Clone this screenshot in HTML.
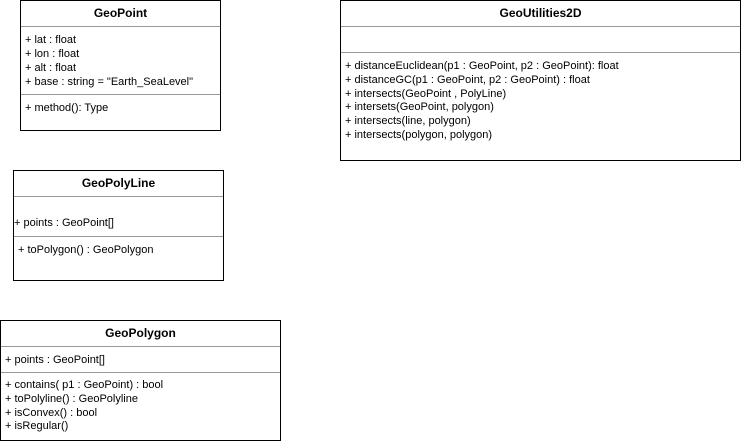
<!DOCTYPE html>
<html><head><meta charset="utf-8"><style>
body{margin:0;width:741px;height:441px;background:#fff;position:relative;overflow:hidden;font-family:"Liberation Sans",Arial,sans-serif;font-size:11px;color:#000}
.b{position:absolute;border:1px solid #000;box-sizing:border-box;background:#fff}
.t{position:absolute;left:0;right:0;text-align:center;font-weight:bold;font-size:12px;line-height:14px}
.d{position:absolute;left:0;right:0;height:1px;background:#999}
.l{position:absolute;white-space:pre;line-height:14px}
</style></head><body>

<div class="b" style="left:20px;top:0;width:201px;height:131px">
 <div class="t" style="top:5px">GeoPoint</div>
 <div class="d" style="top:25px"></div>
 <div class="l" style="left:4px;top:32px">+ lat : float<br>+ lon : float<br>+ alt : float<br>+ base : string = "Earth_SeaLevel"</div>
 <div class="d" style="top:93px"></div>
 <div class="l" style="left:4px;top:100px">+ method(): Type</div>
</div>

<div class="b" style="left:340px;top:0;width:401px;height:161px">
 <div class="t" style="top:5px">GeoUtilities2D</div>
 <div class="d" style="top:25px"></div>
 <div class="d" style="top:51px"></div>
 <div class="l" style="left:4px;top:59px;line-height:13.8px">+ distanceEuclidean(p1 : GeoPoint, p2 : GeoPoint): float<br>+ distanceGC(p1 : GeoPoint, p2 : GeoPoint) : float<br>+ intersects(GeoPoint , PolyLine)<br>+ intersets(GeoPoint, polygon)<br>+ intersects(line, polygon)<br>+ intersects(polygon, polygon)</div>
</div>

<div class="b" style="left:13px;top:170px;width:211px;height:111px">
 <div class="t" style="top:5px">GeoPolyLine</div>
 <div class="d" style="top:25px"></div>
 <div class="l" style="left:0px;top:45px">+ points : GeoPoint[]</div>
 <div class="d" style="top:65px"></div>
 <div class="l" style="left:4px;top:72px">+ toPolygon() : GeoPolygon</div>
</div>

<div class="b" style="left:0px;top:320px;width:281px;height:121px">
 <div class="t" style="top:5px">GeoPolygon</div>
 <div class="d" style="top:25px"></div>
 <div class="l" style="left:4px;top:32px">+ points : GeoPoint[]</div>
 <div class="d" style="top:51px"></div>
 <div class="l" style="left:4px;top:58px;line-height:13.8px">+ contains( p1 : GeoPoint) : bool<br>+ toPolyline() : GeoPolyline<br>+ isConvex() : bool<br>+ isRegular()</div>
</div>

</body></html>
